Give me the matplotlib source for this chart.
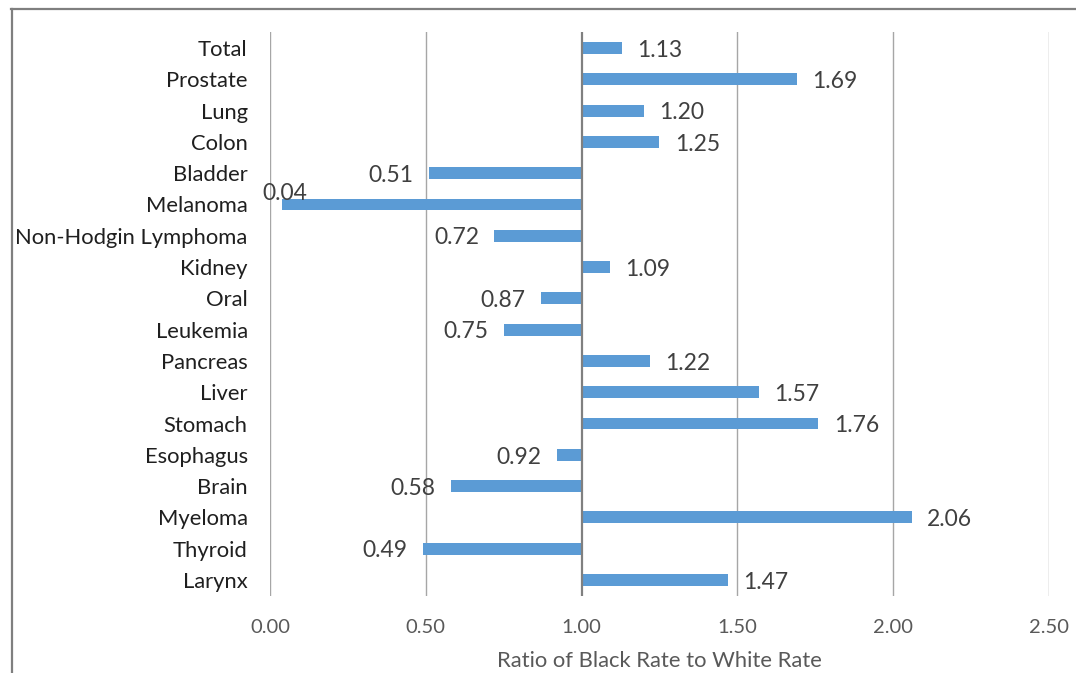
import matplotlib
matplotlib.use("Agg")
import matplotlib.pyplot as plt
from matplotlib.lines import Line2D

categories = ["Total", "Prostate", "Lung", "Colon", "Bladder", "Melanoma",
              "Non-Hodgin Lymphoma", "Kidney", "Oral", "Leukemia", "Pancreas",
              "Liver", "Stomach", "Esophagus", "Brain", "Myeloma", "Thyroid", "Larynx"]
ratios = [1.13, 1.69, 1.20, 1.25, 0.51, 0.04, 0.72, 1.09, 0.87, 0.75, 1.22,
          1.57, 1.76, 0.92, 0.58, 2.06, 0.49, 1.47]
xticks = [0.0, 0.5, 1.0, 1.5, 2.0, 2.5]
baseline = 1.0
xlabel = "Ratio of Black Rate to White Rate"

plt.rcParams['font.family'] = ['Lato', 'DejaVu Sans']

fig = plt.figure(figsize=(10.76, 6.73), dpi=100)
ax = fig.add_axes([0.2509, 0.1150, 0.9749 - 0.2509, 0.9519 - 0.1150])

y = list(range(len(categories)))
ax.barh(y, [r - baseline for r in ratios], left=baseline, height=0.38,
        color="#5B9BD5", zorder=3)

ax.set_xlim(0, 2.5)
ax.set_ylim(len(categories) - 0.5, -0.5)
ax.set_xticks(xticks)
ax.set_xticklabels([f"{t:.2f}" for t in xticks])
ax.set_yticks(y)
ax.set_yticklabels(categories)

for s in ["top", "right", "bottom", "left"]:
    ax.spines[s].set_visible(False)
for t in xticks:
    if t == baseline:
        ax.axvline(t, color="#808080", lw=1.6, zorder=4)
    else:
        ax.axvline(t, color="#A6A6A6", lw=1.0, zorder=1)

ax.tick_params(axis='both', length=0)
ax.tick_params(axis='y', pad=16, labelsize=15.8, labelcolor="#1f1f1f")
ax.tick_params(axis='x', pad=16.5, labelsize=14.5, labelcolor="#595959")
ax.set_xlabel(xlabel, fontsize=15.8, color="#595959", labelpad=11)

vfs = 16.5
for yi, r in zip(y, ratios):
    txt = f"{r:.2f}"
    if r >= baseline:
        ax.annotate(txt, (r, yi), xytext=(11, -1.6), textcoords="offset points",
                    ha="left", va="center", fontsize=vfs, color="#404040")
    elif r < 0.1:
        ax.annotate(txt, (r, yi), xytext=(2, 8), textcoords="offset points",
                    ha="center", va="center", fontsize=vfs, color="#404040")
    else:
        ax.annotate(txt, (r, yi), xytext=(-11, -1.6), textcoords="offset points",
                    ha="right", va="center", fontsize=vfs, color="#404040")

# outer frame
fig.add_artist(Line2D([11 / 1076, 1.0], [1 - 8.5 / 673] * 2, color="#7F7F7F", lw=1.6,
                      transform=fig.transFigure))
fig.add_artist(Line2D([11.5 / 1076] * 2, [0.0, 1 - 8.5 / 673], color="#7F7F7F", lw=1.6,
                      transform=fig.transFigure))

fig.savefig("out.png", dpi=100)
